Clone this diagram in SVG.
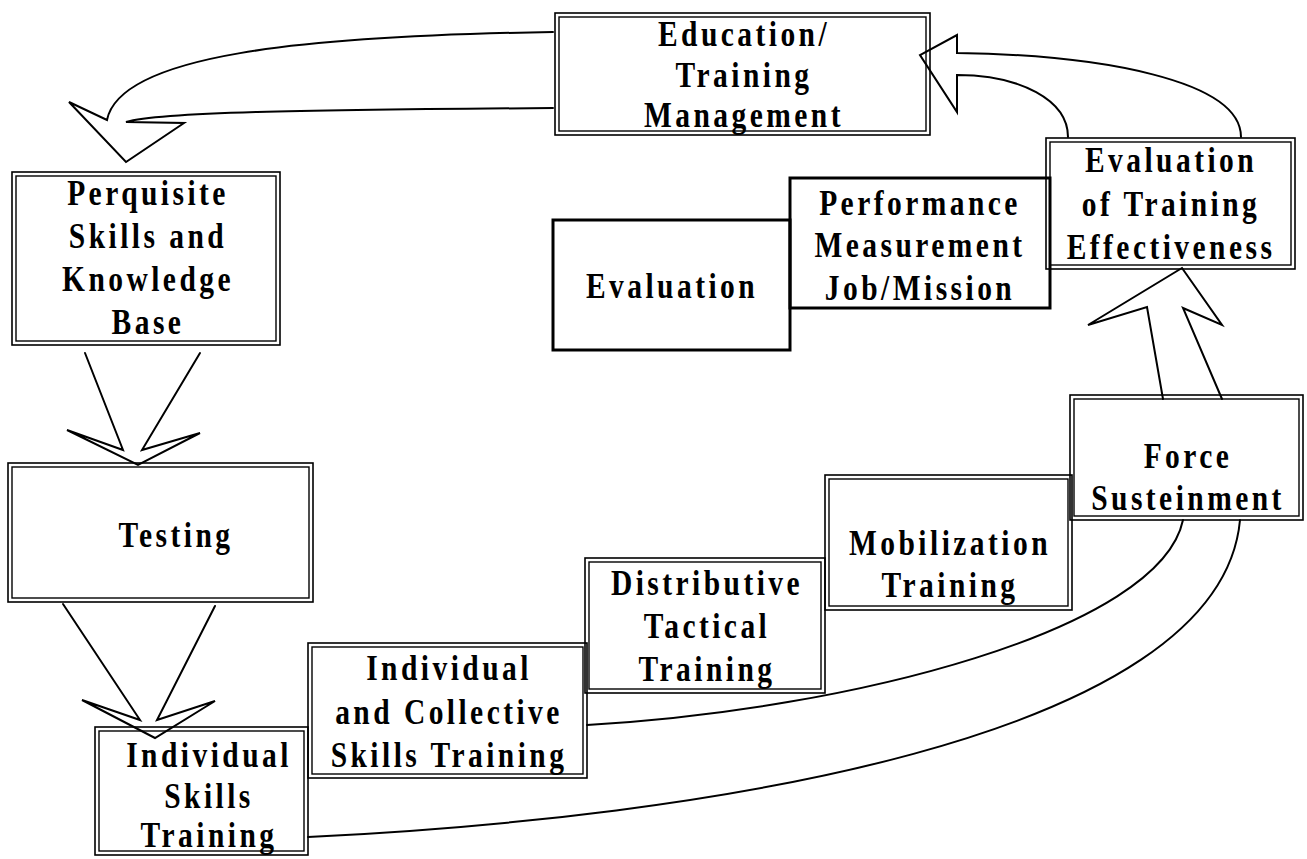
<svg xmlns="http://www.w3.org/2000/svg" width="1307" height="859" viewBox="0 0 1307 859">
<style>
.o{fill:none;stroke:#000;stroke-width:1.6}
.i{fill:none;stroke:#000;stroke-width:1.4}
.s{fill:none;stroke:#000;stroke-width:3}
.t{font-family:"Liberation Serif","Times New Roman",serif;font-weight:bold;font-size:36px;letter-spacing:4.2px;text-anchor:middle;fill:#000}
.c{fill:none;stroke:#000;stroke-width:2;stroke-linejoin:miter;stroke-linecap:round}
</style>
<rect width="1307" height="859" fill="#fff"/>
<g id="connectors">
<path class="c" d="M553,32 C300,36 120,55 107,120 L69,102 L126,162 L184,123 L126,122 C160,112 300,110 553,108"/>
<polyline class="c" points="85,353 123,450 67,430 138,465 200,433 142,450 200,353"/>
<polyline class="c" points="63,604 140,720 82,700 155,738 215,701 157,720 215,606"/>
<polyline class="c" points="1163,399 1147,307 1088,325 1182,268 1222,325 1183,308 1222,399"/>
<path class="c" d="M1241,137 C1241,80 1100,55 957,53 L957,35 L920,55 L957,112 L957,75 C1020,75 1068,100 1068,137"/>
<path class="c" d="M587,725 C850,710 1160,630 1183,520"/>
<path class="c" d="M308,837 C700,818 1220,740 1240,520"/>
</g>
<g id="education">
<rect class="o" x="555" y="13" width="375" height="122"/><rect class="i" x="559" y="17" width="367" height="114"/>
<text class="t" transform="translate(744,46) scale(0.82,1)">Education/</text>
<text class="t" transform="translate(744,87) scale(0.82,1)">Training</text>
<text class="t" transform="translate(744,127) scale(0.82,1)">Management</text>
</g>
<g id="perquisite">
<rect class="o" x="12" y="172" width="268" height="173"/><rect class="i" x="16" y="176" width="260" height="165"/>
<text class="t" transform="translate(148,205) scale(0.82,1)">Perquisite</text>
<text class="t" transform="translate(148,248) scale(0.82,1)">Skills and</text>
<text class="t" transform="translate(148,291) scale(0.82,1)">Knowledge</text>
<text class="t" transform="translate(148,334) scale(0.82,1)">Base</text>
</g>
<g id="testing">
<rect class="o" x="8" y="463" width="305" height="139"/><rect class="i" x="12" y="467" width="297" height="131"/>
<text class="t" transform="translate(176,547) scale(0.82,1)">Testing</text>
</g>
<g id="individual-skills">
<rect class="o" x="95" y="727" width="213" height="128"/><rect class="i" x="99" y="731" width="205" height="120"/>
<text class="t" transform="translate(209,767) scale(0.82,1)">Individual</text>
<text class="t" transform="translate(209,808) scale(0.82,1)">Skills</text>
<text class="t" transform="translate(209,847) scale(0.82,1)">Training</text>
</g>
<g id="individual-collective">
<rect class="o" x="308" y="643" width="279" height="135"/><rect class="i" x="312" y="647" width="271" height="127"/>
<text class="t" transform="translate(449,680) scale(0.82,1)">Individual</text>
<text class="t" transform="translate(449,724) scale(0.82,1)">and Collective</text>
<text class="t" transform="translate(449,767) scale(0.82,1)">Skills Training</text>
</g>
<g id="distributive">
<rect class="o" x="585" y="558" width="240" height="135"/><rect class="i" x="589" y="562" width="232" height="127"/>
<text class="t" transform="translate(707,595) scale(0.82,1)">Distributive</text>
<text class="t" transform="translate(707,638) scale(0.82,1)">Tactical</text>
<text class="t" transform="translate(707,681) scale(0.82,1)">Training</text>
</g>
<g id="mobilization">
<rect class="o" x="825" y="475" width="247" height="135"/><rect class="i" x="829" y="479" width="239" height="127"/>
<text class="t" transform="translate(950,555) scale(0.82,1)">Mobilization</text>
<text class="t" transform="translate(950,597) scale(0.82,1)">Training</text>
</g>
<g id="force">
<rect class="o" x="1070" y="395" width="233" height="125"/><rect class="i" x="1074" y="399" width="225" height="117"/>
<text class="t" transform="translate(1188,468) scale(0.82,1)">Force</text>
<text class="t" transform="translate(1188,510) scale(0.82,1)">Susteinment</text>
</g>
<g id="evaluation-effectiveness">
<rect class="o" x="1046" y="138" width="249" height="131"/><rect class="i" x="1050" y="142" width="241" height="123"/>
<text class="t" transform="translate(1171,172) scale(0.82,1)">Evaluation</text>
<text class="t" transform="translate(1171,216) scale(0.82,1)">of Training</text>
<text class="t" transform="translate(1171,259) scale(0.82,1)">Effectiveness</text>
</g>
<g id="performance">
<rect class="s" x="790" y="178" width="260" height="130"/>
<text class="t" transform="translate(920,215) scale(0.82,1)">Performance</text>
<text class="t" transform="translate(920,257) scale(0.82,1)">Measurement</text>
<text class="t" transform="translate(920,300) scale(0.82,1)">Job/Mission</text>
</g>
<g id="evaluation">
<rect class="s" x="553" y="220" width="237" height="130"/>
<text class="t" transform="translate(672,298) scale(0.82,1)">Evaluation</text>
</g>
</svg>
